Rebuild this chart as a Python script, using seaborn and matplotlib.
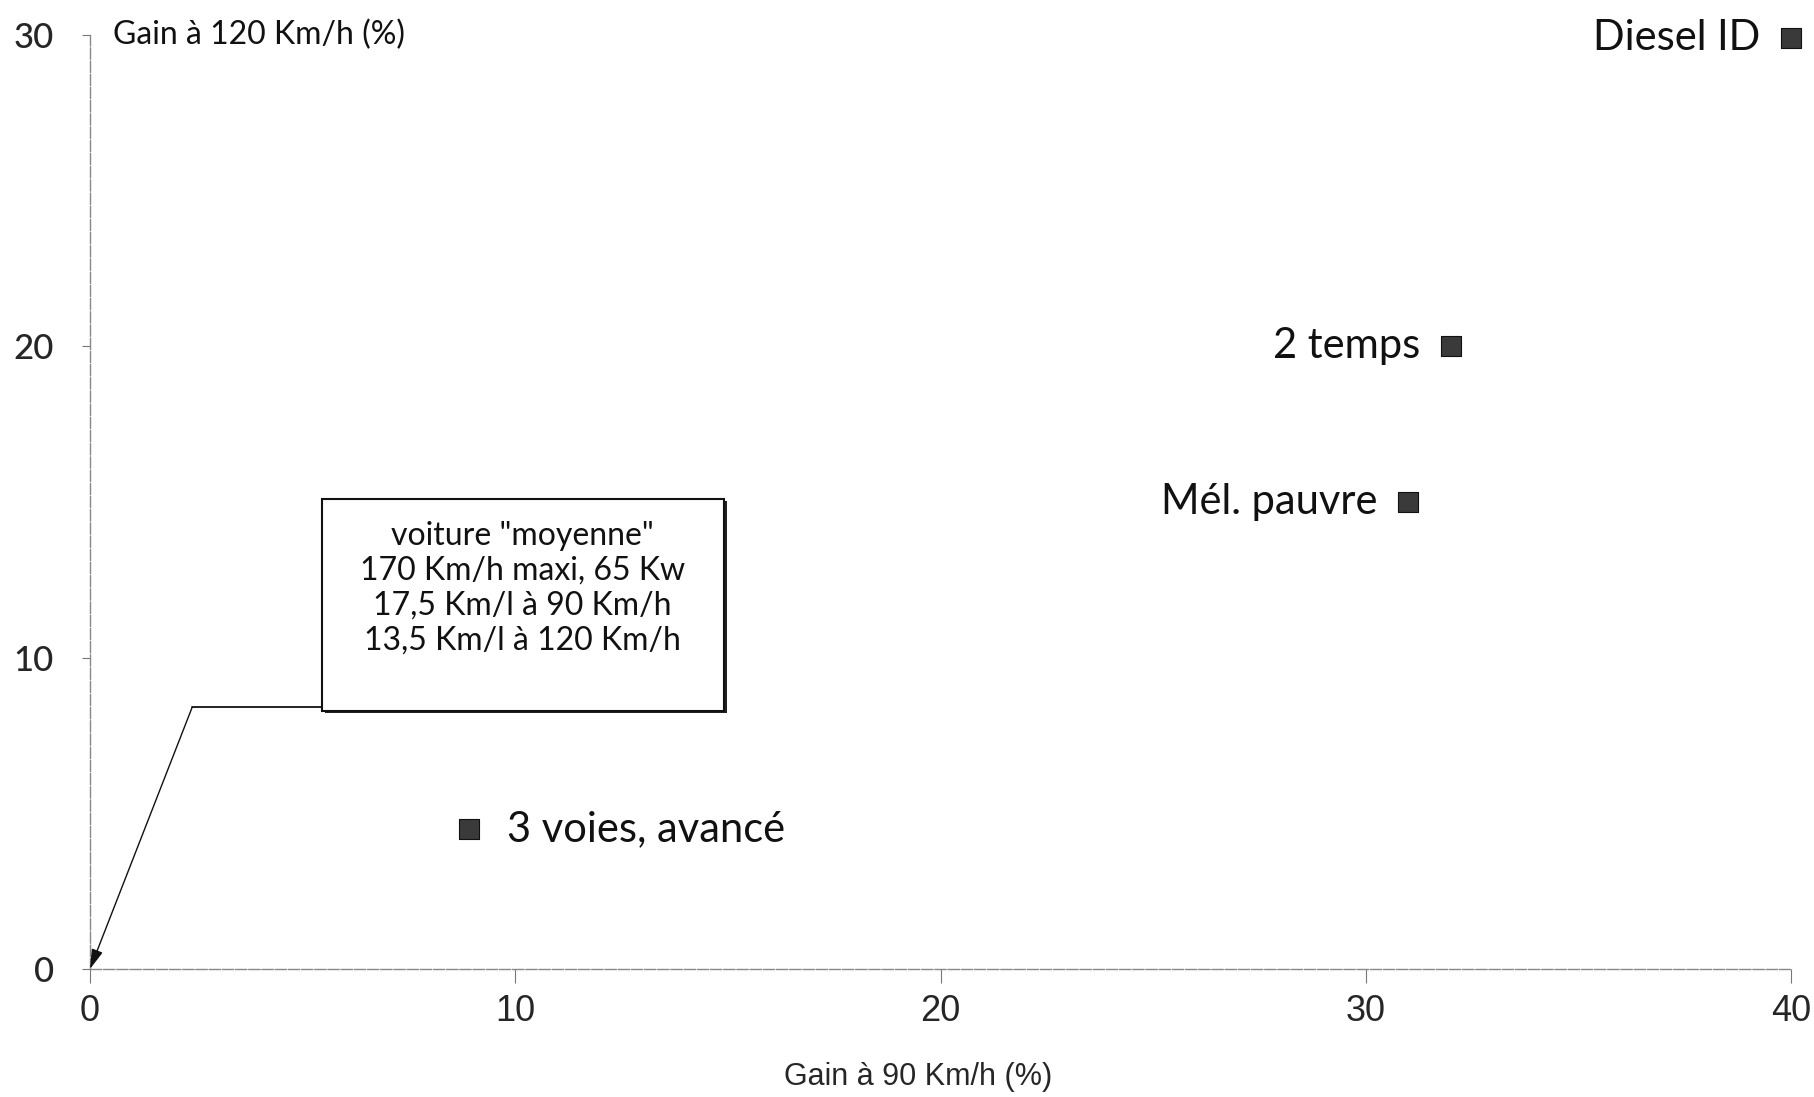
import matplotlib
matplotlib.use("Agg")
import matplotlib.pyplot as plt
import seaborn as sns
import pandas as pd
from matplotlib.patches import Rectangle

# ---- data ----
labels = ["Diesel ID", "2 temps", "Mél. pauvre", "3 voies, avancé"]
gain_90 = [40, 32, 31, 8.9]
gain_120 = [29.9, 20, 15, 4.5]
label_side = ["left", "left", "left", "right"]

x_ticks = [0, 10, 20, 30, 40]
y_ticks = [0, 10, 20, 30]
x_title = "Gain à 90 Km/h (%)"
y_title = "Gain à 120 Km/h (%)"

box_lines = ['voiture "moyenne"', "170 Km/h maxi, 65 Kw",
             "17,5 Km/l à 90 Km/h", "13,5 Km/l à 120 Km/h"]
box_x0, box_x1, box_y0, box_y1 = 5.45, 14.9, 8.3, 15.1
elbow = (2.4, 8.4)
target = (0, 0)

df = pd.DataFrame({"x": gain_90, "y": gain_120, "label": labels})

sns.set_style("white")
plt.rcParams["font.family"] = ["Lato", "DejaVu Sans"]

fig = plt.figure(figsize=(18.15, 10.97), dpi=100)
ax = fig.add_axes([0.0496, 0.1167, 0.9372, 0.8513])

sns.scatterplot(data=df, x="x", y="y", marker="s", s=190, color="#3a3a3a",
                edgecolor="#111111", linewidth=0.8, ax=ax, clip_on=False, zorder=5)

for xv, yv, lab, side in zip(gain_90, gain_120, labels, label_side):
    off = -22 if side == "left" else 28
    ax.annotate(lab, (xv, yv), xytext=(off, 0), textcoords="offset points",
                ha="right" if side == "left" else "left", va="center",
                fontsize=30, color="#111111", family=["Lato", "DejaVu Sans"])

ax.set_xlim(0, 40)
ax.set_ylim(0, 30)
ax.set_xticks(x_ticks)
ax.set_yticks(y_ticks)
ax.set_xticklabels([str(v) for v in x_ticks], fontsize=26,
                   family=["Liberation Sans Narrow", "Liberation Sans", "DejaVu Sans"])
ax.set_yticklabels([str(v) for v in y_ticks], fontsize=25, fontweight="medium",
                   family=["Lato", "DejaVu Sans"])
ax.tick_params(axis="x", direction="out", length=10, width=0.8, color="#777777",
               pad=8, bottom=True)
ax.tick_params(axis="y", direction="out", length=6, width=0.8, color="#777777",
               pad=20, left=True)

for side in ["top", "right"]:
    ax.spines[side].set_visible(False)
for side in ["left", "bottom"]:
    ax.spines[side].set_color("#888888")
    ax.spines[side].set_linewidth(1.0)
    ax.spines[side].set_linestyle((0, (8, 1.5)))

ax.set_xlabel(x_title, fontsize=22,
              family=["Liberation Sans Narrow", "Liberation Sans", "DejaVu Sans"])
ax.xaxis.set_label_coords(0.487, -0.100)
ax.set_ylabel("")
ax.text(0.0135, 1.0, y_title, transform=ax.transAxes, ha="left", va="center",
        fontsize=23, color="#111111")

# annotation box
ax.add_patch(Rectangle((box_x0 + 0.08, box_y0 - 0.08), box_x1 - box_x0, box_y1 - box_y0,
                       facecolor="#222222", edgecolor="none", zorder=3, clip_on=False))
ax.add_patch(Rectangle((box_x0, box_y0), box_x1 - box_x0, box_y1 - box_y0,
                       facecolor="white", edgecolor="#111111", linewidth=1.5, zorder=4,
                       clip_on=False))
ax.text((box_x0 + box_x1) / 2, 14.4, "\n".join(box_lines), ha="center", va="top",
        fontsize=23, linespacing=1.2, color="#111111", zorder=6)
ax.plot([box_x0, elbow[0]], [elbow[1], elbow[1]], color="#111111", lw=1.3, zorder=4)
ax.annotate("", xy=target, xytext=elbow,
            arrowprops=dict(arrowstyle="-|>,head_length=1.2,head_width=0.35",
                            color="#111111", lw=1.0, shrinkA=0, shrinkB=0),
            annotation_clip=False, zorder=4)

fig.savefig("out.png", dpi=100)
